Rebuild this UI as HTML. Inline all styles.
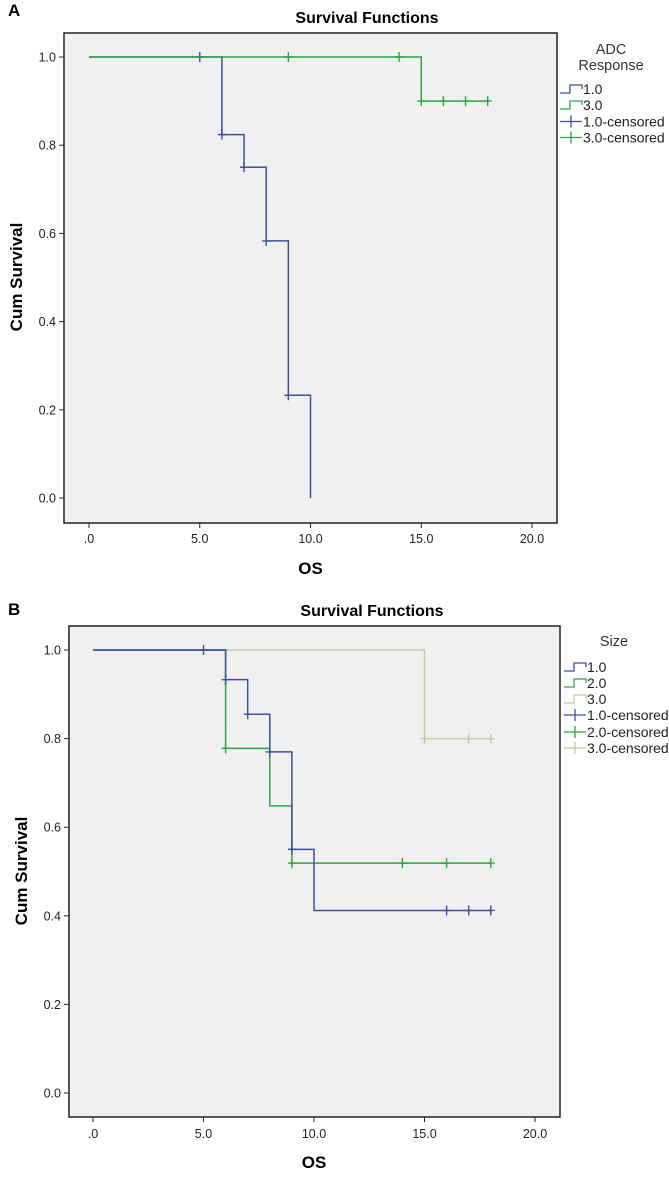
<!DOCTYPE html>
<html><head><meta charset="utf-8"><style>
body{margin:0;background:#fff;}
svg{display:block;font-family:"Liberation Sans",Arial,sans-serif;}
</style></head><body>
<svg id="svg" width="669" height="1177" viewBox="0 0 669 1177" xmlns="http://www.w3.org/2000/svg"></svg>
<script>
// ---- Data: Panel A (ADC Response) ----
const xTicks = [0, 5, 10, 15, 20];
const xTickLabels = [".0", "5.0", "10.0", "15.0", "20.0"];
const yTicks = [0, 0.2, 0.4, 0.6, 0.8, 1.0];
const yTickLabels = ["0.0", "0.2", "0.4", "0.6", "0.8", "1.0"];

const aG1Times = [0, 6, 7, 8, 9, 10];
const aG1Surv = [1.0, 0.824, 0.75, 0.583, 0.233, 0];
const aG1End = 10;
const aG1CensT = [5, 6, 7, 8, 9];
const aG1CensS = [1.0, 0.824, 0.75, 0.583, 0.233];

const aG3Times = [0, 15];
const aG3Surv = [1.0, 0.9];
const aG3End = 18;
const aG3CensT = [9, 14, 15, 16, 17, 18];
const aG3CensS = [1.0, 1.0, 0.9, 0.9, 0.9, 0.9];

// ---- Data: Panel B (Size) ----
const bG1Times = [0, 6, 7, 8, 9, 10];
const bG1Surv = [1.0, 0.933, 0.855, 0.77, 0.55, 0.412];
const bG1End = 18;
const bG1CensT = [5, 6, 7, 8, 9, 16, 17, 18];
const bG1CensS = [1.0, 0.933, 0.855, 0.77, 0.55, 0.412, 0.412, 0.412];

const bG2Times = [0, 6, 8, 9];
const bG2Surv = [1.0, 0.778, 0.648, 0.519];
const bG2End = 18;
const bG2CensT = [6, 9, 14, 16, 18];
const bG2CensS = [0.778, 0.519, 0.519, 0.519, 0.519];

const bG3Times = [0, 15];
const bG3Surv = [1.0, 0.8];
const bG3End = 18;
const bG3CensT = [15, 17, 18];
const bG3CensS = [0.8, 0.8, 0.8];

const BLUE = "#3d4f9e", GREEN = "#2ea53f", TAN = "#cbc79f";
const NS = "http://www.w3.org/2000/svg";
const svg = document.getElementById("svg");

function mk(tag, attrs, parent) {
  const e = document.createElementNS(NS, tag);
  for (const k in attrs) e.setAttribute(k, attrs[k]);
  (parent || svg).appendChild(e);
  return e;
}

function panel(cfg) {
  const g = mk("g", {});
  
  
  const xs = v => cfg.x0 + (cfg.x20 - cfg.x0) * v / 20;
  const ys = v => cfg.y0 + (cfg.y1 - cfg.y0) * v;

  const lt = mk("text", {x: 8, y: cfg.letterY, "font-size": 17, "font-weight": "bold"}, g);
  lt.textContent = cfg.letter;
  
  

  const tt = mk("text", {x: cfg.titleX, y: cfg.titleY, "font-size": 16, "font-weight": "bold", "text-anchor": "middle"}, g);
  tt.textContent = "Survival Functions";
  
  

  const bg = mk("rect", {x: cfg.bx0, y: cfg.by0, width: cfg.bx1 - cfg.bx0, height: cfg.by1 - cfg.by0, fill: "#f0f0f0", stroke: "#222", "stroke-width": 1.5}, g);
  
  

  yTicks.forEach((v, i) => {
    const y = ys(v);
    const tk = mk("line", {x1: cfg.bx0 - 5, x2: cfg.bx0, y1: y, y2: y, stroke: "#222", "stroke-width": 1}, g);
    
    
    const tl = mk("text", {x: cfg.bx0 - 8, y: y + 4.5, "font-size": 12.5, "text-anchor": "end", fill: "#222"}, g);
    tl.textContent = yTickLabels[i];
    
    
  });
  xTicks.forEach((v, i) => {
    const x = xs(v);
    const tk = mk("line", {x1: x, x2: x, y1: cfg.by1, y2: cfg.by1 + 5, stroke: "#222", "stroke-width": 1}, g);
    
    
    const tl = mk("text", {x: x, y: cfg.xlabY, "font-size": 12.5, "text-anchor": "middle", fill: "#222"}, g);
    tl.textContent = xTickLabels[i];
    
    
  });

  const xt = mk("text", {x: xs(10), y: cfg.osY, "font-size": 17, "font-weight": "bold", "text-anchor": "middle"}, g);
  xt.textContent = "OS";
  
  
  const yt = mk("text", {x: 0, y: 0, "font-size": 17, "font-weight": "bold", "text-anchor": "middle", transform: `translate(${cfg.ylX},${cfg.ylY}) rotate(-90)`}, g);
  yt.textContent = "Cum Survival";
  
  

  cfg.series.forEach(s => {
    let d = `M${xs(s.t[0])},${ys(s.s[0])}`;
    for (let i = 1; i < s.t.length; i++) {
      d += ` H${xs(s.t[i])} V${ys(s.s[i])}`;
    }
    d += ` H${xs(s.end)}`;
    const p = mk("path", {d: d, fill: "none", stroke: s.color, "stroke-width": 1.5}, g);
    
    
    s.ct.forEach((t, i) => {
      const x = xs(t), y = ys(s.cs[i]);
      const c = mk("path", {d: `M${x - 4},${y} H${x + 4} M${x},${y - 5} V${y + 5}`, stroke: s.color, "stroke-width": 1.4}, g);
      
      
    });
  });

  cfg.legTitle.forEach((txt, i) => {
    const t = mk("text", {x: cfg.legTX, y: cfg.legTY[i], "font-size": 14.5, "text-anchor": "middle", fill: "#333"}, g);
    t.textContent = txt;
    
    
  });
  cfg.legend.forEach((L, i) => {
    const y = cfg.legY[i];
    const lx = cfg.legX;
    let ic;
    if (L.type === "step") {
      ic = mk("path", {d: `M${lx},${y + 4} H${lx + 10} V${y - 4} H${lx + 22} V${y}`, fill: "none", stroke: L.color, "stroke-width": 1.3}, g);
    } else {
      ic = mk("path", {d: `M${lx},${y} H${lx + 22} M${lx + 11},${y - 6} V${y + 6}`, stroke: L.color, "stroke-width": 1.3}, g);
    }
    
    
    const t = mk("text", {x: lx + 23, y: y + 5, "font-size": 14, fill: "#222"}, g);
    t.textContent = L.label;
    
    
  });
}

panel({
  name: "panel-a", letter: "A", letterY: 16, titleX: 367, titleY: 23,
  bx0: 64, bx1: 557, by0: 33, by1: 523,
  x0: 89, x20: 532, y0: 498, y1: 57,
  xlabY: 543, osY: 574, ylX: 22, ylY: 277,
  series: [
    {key: "g1", t: aG1Times, s: aG1Surv, end: aG1End, ct: aG1CensT, cs: aG1CensS, color: BLUE},
    {key: "g3", t: aG3Times, s: aG3Surv, end: aG3End, ct: aG3CensT, cs: aG3CensS, color: GREEN}
  ],
  legTitle: ["ADC", "Response"], legTX: 611, legTY: [54, 70],
  legX: 560, legY: [89, 105, 121.5, 137.5],
  legend: [
    {type: "step", color: BLUE, label: "1.0"},
    {type: "step", color: GREEN, label: "3.0"},
    {type: "cens", color: BLUE, label: "1.0-censored"},
    {type: "cens", color: GREEN, label: "3.0-censored"}
  ]
});

panel({
  name: "panel-b", letter: "B", letterY: 615, titleX: 372, titleY: 616,
  bx0: 69, bx1: 560, by0: 626, by1: 1117,
  x0: 93, x20: 535, y0: 1093, y1: 650,
  xlabY: 1138, osY: 1168, ylX: 27, ylY: 871,
  series: [
    {key: "g3", t: bG3Times, s: bG3Surv, end: bG3End, ct: bG3CensT, cs: bG3CensS, color: TAN},
    {key: "g2", t: bG2Times, s: bG2Surv, end: bG2End, ct: bG2CensT, cs: bG2CensS, color: GREEN},
    {key: "g1", t: bG1Times, s: bG1Surv, end: bG1End, ct: bG1CensT, cs: bG1CensS, color: BLUE}
  ],
  legTitle: ["Size"], legTX: 614, legTY: [646],
  legX: 564, legY: [667, 683, 699, 715, 732, 748],
  legend: [
    {type: "step", color: BLUE, label: "1.0"},
    {type: "step", color: GREEN, label: "2.0"},
    {type: "step", color: TAN, label: "3.0"},
    {type: "cens", color: BLUE, label: "1.0-censored"},
    {type: "cens", color: GREEN, label: "2.0-censored"},
    {type: "cens", color: TAN, label: "3.0-censored"}
  ]
});
</script>
</body></html>
